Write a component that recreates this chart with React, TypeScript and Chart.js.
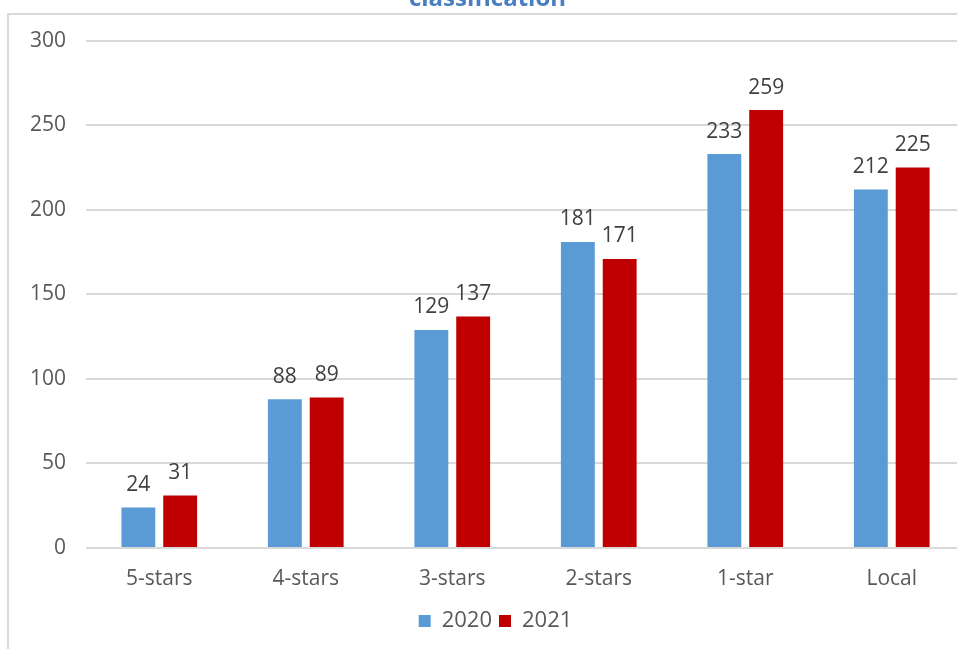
import React, { useEffect, useRef } from "react";
import { Chart, registerables } from "chart.js";

Chart.register(...registerables);

const categories = ["5-stars", "4-stars", "3-stars", "2-stars", "1-star", "Local"];
const values2020 = [24, 88, 129, 181, 233, 212];
const values2021 = [31, 89, 137, 171, 259, 225];
const seriesLabels = ["2020", "2021"];
const titleText = "classification";

const FONT = "'Open Sans', 'Liberation Sans', sans-serif";

const valueLabelPlugin = {
  id: "valueLabels",
  afterLayout(chart: any) {
    const lg = chart.legend;
    if (lg) {
      lg.left += 8;
      lg.right += 8;
    }
  },
  afterDatasetsDraw(chart: any) {
    const ctx = chart.ctx;
    ctx.save();
    ctx.font = `21px ${FONT}`;
    ctx.fillStyle = "#404040";
    ctx.textAlign = "center";
    ctx.textBaseline = "bottom";
    chart.data.datasets.forEach((ds: any, i: number) => {
      const meta = chart.getDatasetMeta(i);
      meta.data.forEach((bar: any, j: number) => {
        ctx.fillText(String(ds.data[j]), bar.x, bar.y - 12);
      });
    });
    ctx.restore();
  },
};

export default function App() {
  const ref = useRef<HTMLCanvasElement>(null);
  useEffect(() => {
    if (!ref.current) return;
    const chart = new Chart(ref.current, {
      type: "bar",
      data: {
        labels: categories,
        datasets: [
          {
            label: seriesLabels[0],
            data: values2020,
            backgroundColor: "#5B9BD5",
            categoryPercentage: 0.571,
            barPercentage: 0.81,
          },
          {
            label: seriesLabels[1],
            data: values2021,
            backgroundColor: "#C00000",
            categoryPercentage: 0.571,
            barPercentage: 0.81,
          },
        ],
      },
      options: {
        responsive: false,
        animation: false,
        devicePixelRatio: 1,
        layout: { padding: { left: 10, right: 10, top: 0, bottom: 7 } },
        plugins: {
          title: {
            display: true,
            text: titleText,
            color: "#4A7EC2",
            font: { family: FONT, size: 24, weight: "bold" },
            padding: { top: 5, bottom: 27 },
          },
          legend: {
            position: "bottom",
            labels: {
              boxWidth: 12,
              boxHeight: 12,
              padding: 7,
              color: "#595959",
              font: { family: FONT, size: 22 },
            },
          },
          tooltip: { enabled: false },
        },
        scales: {
          x: {
            grid: { display: false },
            border: { display: false },
            ticks: {
              color: "#595959",
              font: { family: FONT, size: 21, lineHeight: 1 },
              padding: 13,
            },
          },
          y: {
            min: 0,
            max: 300,
            grid: { color: "#d9d9d9", lineWidth: 2, drawTicks: false },
            border: { display: false },
            ticks: {
              stepSize: 50,
              color: "#595959",
              font: { family: FONT, size: 21 },
              padding: 20,
            },
          },
        },
      },
      plugins: [valueLabelPlugin],
    });
    return () => chart.destroy();
  }, []);

  return (
    <div
      style={{
        position: "fixed",
        left: 0,
        top: 0,
        width: 957,
        height: 649,
        overflow: "hidden",
        background: "#fff",
      }}
    >
      <div
        style={{
          position: "absolute",
          left: 7,
          top: 13,
          width: 1000,
          height: 700,
          borderLeft: "2px solid #d9d9d9",
          borderTop: "2px solid #d9d9d9",
        }}
      />
      <canvas
        ref={ref}
        width={975}
        height={669}
        style={{ position: "absolute", left: 0, top: -20, width: 975, height: 669 }}
      />
    </div>
  );
}
